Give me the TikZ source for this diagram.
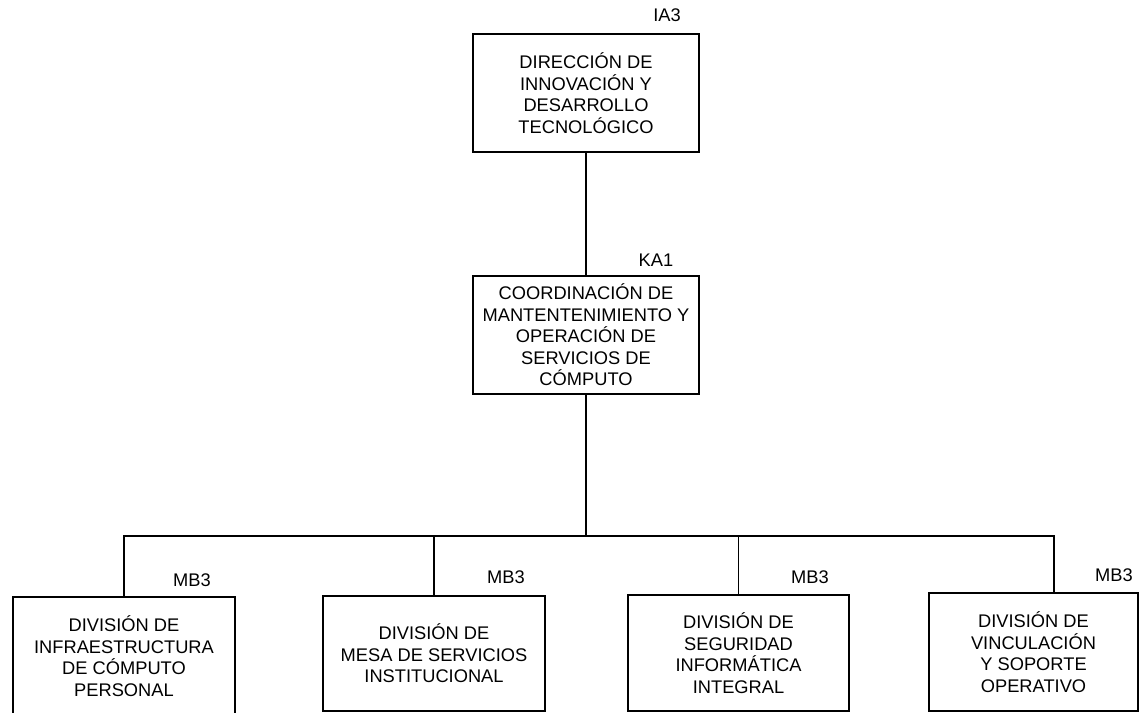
\documentclass[tikz,border=0pt]{standalone}
\usepackage{fontspec}
\setmainfont{Liberation Sans}
\usetikzlibrary{positioning}

\begin{document}
\begin{tikzpicture}[x=0.025cm,y=-0.025cm,line width=1.4pt,
  unit/.style={draw,align=center,inner sep=0pt,font=\fontsize{13}{15.3}\selectfont},
  code/.style={font=\fontsize{13}{15.3}\selectfont}]
\useasboundingbox (0,0) rectangle (1141,712);
% upper levels
\node[unit,minimum width=5.65cm,minimum height=2.95cm] (dir) at (586,93) {DIRECCIÓN DE\\INNOVACIÓN Y\\DESARROLLO\\TECNOLÓGICO};
\node[unit,minimum width=5.65cm,minimum height=2.95cm] (coord) at (586,335) {COORDINACIÓN DE\\MANTENTENIMIENTO Y\\OPERACIÓN DE\\SERVICIOS DE\\CÓMPUTO};
\node[code] (ia) at (667,15) {IA3};
\node[code] (ka) at (656,260) {KA1};
% divisions
\node[unit,minimum width=5.55cm,minimum height=2.95cm] (div1) at (124,656) {DIVISIÓN DE\\INFRAESTRUCTURA\\DE CÓMPUTO\\PERSONAL};
\node[unit,minimum width=5.55cm,minimum height=2.875cm] (div2) at (434,653.5) {DIVISIÓN DE\\MESA DE SERVICIOS\\INSTITUCIONAL};
\node[unit,minimum width=5.525cm,minimum height=2.9cm] (div3) at (738.5,653) {DIVISIÓN DE\\SEGURIDAD\\INFORMÁTICA\\INTEGRAL};
\node[unit,minimum width=5.225cm,minimum height=2.95cm] (div4) at (1033.5,652) {DIVISIÓN DE\\VINCULACIÓN\\Y SOPORTE\\OPERATIVO};
\node[code] (mb1) at (192,580) {MB3};
\node[code] (mb2) at (506,577) {MB3};
\node[code] (mb3) at (810,577) {MB3};
\node[code] (mb4) at (1114,575) {MB3};
% connectors
\coordinate (bus) at (586,536);
\coordinate (tap4) at (1054,593);
\draw (dir.south) -- (coord.north);
\draw (coord.south) -- (bus);
\draw (div1.north) |- (bus) -| (tap4);
\draw (div2.north) -- (div2.north |- bus);
\draw (div3.north) -- (div3.north |- bus);
\end{tikzpicture}
\end{document}
